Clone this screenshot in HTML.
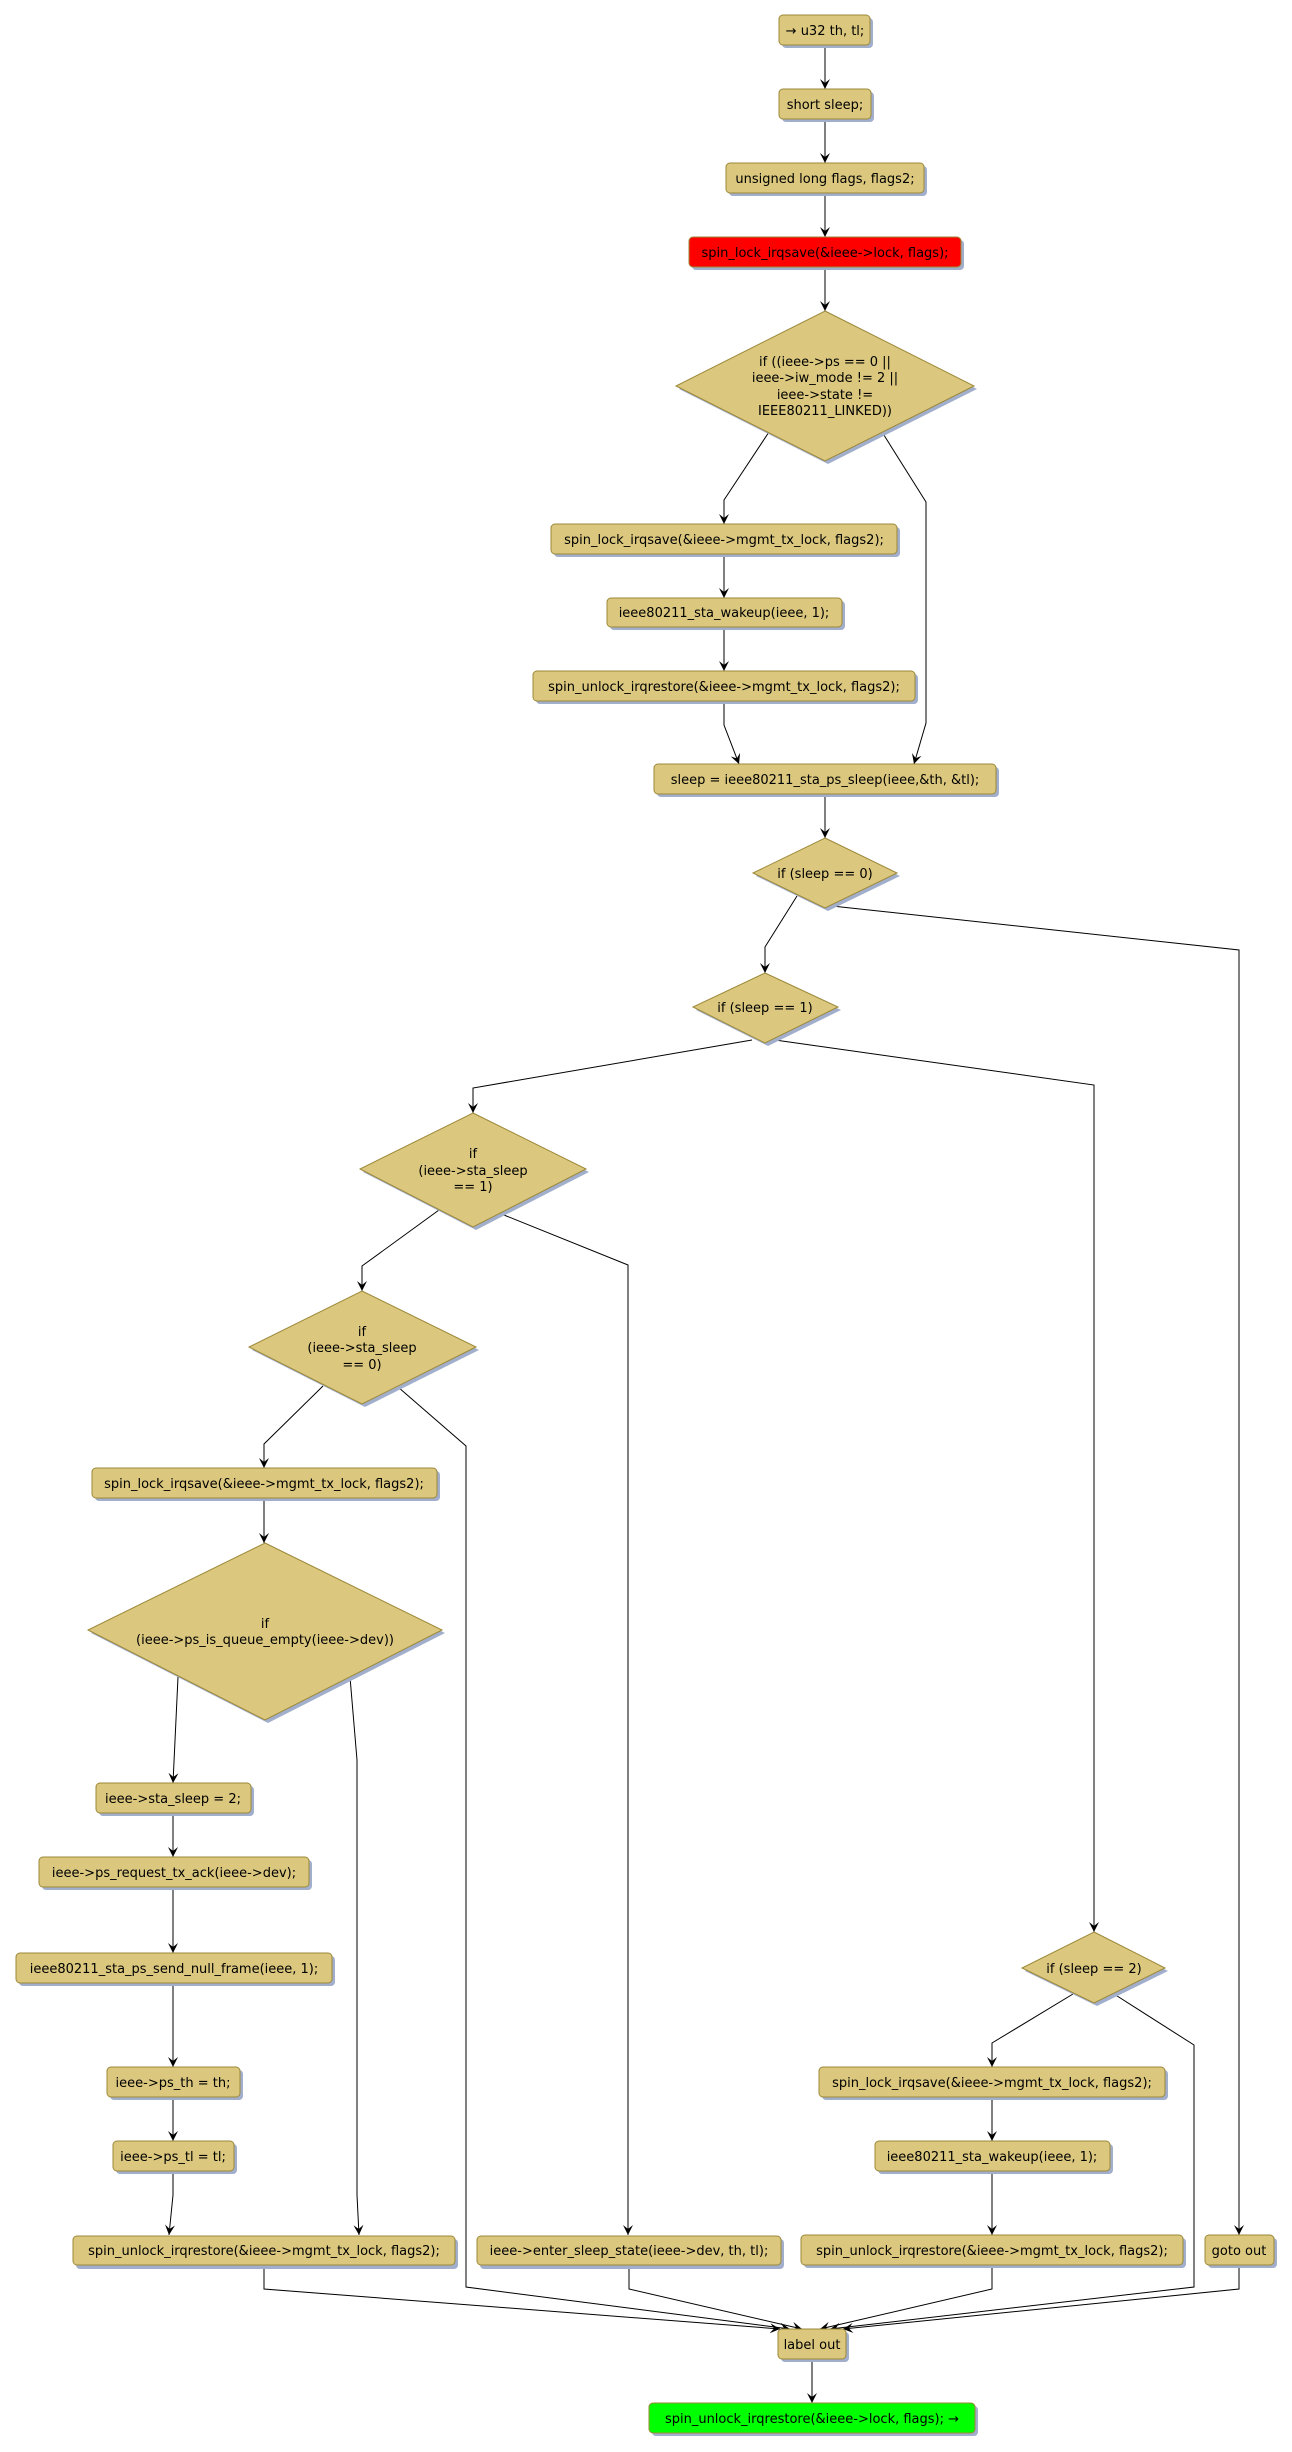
<!DOCTYPE html>
<html><head><meta charset="utf-8"><style>
html,body{margin:0;padding:0;background:#fff}
svg{display:block}
text{font-family:"DejaVu Sans","Liberation Sans",sans-serif;font-size:13px;fill:#000;text-anchor:middle}
.b{fill:#dbc87e;stroke:#9c8838;stroke-width:1}
.s{fill:#a2afcc}
.l{fill:none;stroke:#000;stroke-width:1}
</style></head><body>
<svg width="1292" height="2452" viewBox="0 0 1292 2452" xmlns="http://www.w3.org/2000/svg">
<defs>
<marker id="a" markerWidth="12" markerHeight="12" refX="10" refY="5" orient="auto" markerUnits="userSpaceOnUse">
<path d="M0,0 L10,5 L0,10 L4,5 Z" fill="#000"/>
</marker>
</defs>

<g class="l" marker-end="url(#a)">
<path d="M825,45 V89"/>
<path d="M825,119 V163"/>
<path d="M825,193 V237"/>
<path d="M825,267 V311"/>
<path d="M769,432 L724,500 V524"/>
<path d="M882,432 L926,502 V723 L914,764"/>
<path d="M724,554 V598"/>
<path d="M724,627 V671"/>
<path d="M724,701 V725 L739,764"/>
<path d="M825,794 V838"/>
<path d="M797,896 L765,947 V973"/>
<path d="M832,906 L1239,950 V2235"/>
<path d="M752,1040 L473,1088 V1113"/>
<path d="M775,1040 L1094,1085 V1932"/>
<path d="M439,1210 L362,1266 V1291"/>
<path d="M499,1213 L628,1265 V2235"/>
<path d="M323,1386 L264,1444 V1468"/>
<path d="M264,1498 V1543"/>
<path d="M178,1677 L173,1783"/>
<path d="M350,1677 L357,1760 V2195 L359,2235"/>
<path d="M173,1813 V1857"/>
<path d="M173,1887 V1953"/>
<path d="M173,1983 V2067"/>
<path d="M173,2097 V2141"/>
<path d="M173,2171 V2195 L169,2235"/>
<path d="M1073,1994 L992,2043 V2067"/>
<path d="M992,2097 V2141"/>
<path d="M992,2171 V2235"/>
<path d="M264,2265 V2289 L780,2329"/>
<path d="M398,1387 L466,1446 V2287 L790,2329"/>
<path d="M629,2265 V2289 L802,2329"/>
<path d="M992,2265 V2289 L820,2329"/>
<path d="M1114,1994 L1194,2045 V2287 L830,2329"/>
<path d="M1239,2265 V2289 L843,2329"/>
<path d="M812,2359 V2403"/>
</g>

<g>
<rect class="s" x="782" y="18" width="91" height="30" rx="4"/><rect class="b" x="779" y="15" width="91" height="30" rx="4"/><text x="825" y="35">→ u32 th, tl;</text>
<rect class="s" x="782" y="92" width="92" height="30" rx="4"/><rect class="b" x="779" y="89" width="92" height="30" rx="4"/><text x="825" y="109">short sleep;</text>
<rect class="s" x="729" y="166" width="198" height="30" rx="4"/><rect class="b" x="726" y="163" width="198" height="30" rx="4"/><text x="825" y="183">unsigned long flags, flags2;</text>
<rect class="s" x="692" y="240" width="272" height="30" rx="4"/><rect class="b" x="689" y="237" width="272" height="30" rx="4" style="fill:#ff0000"/><text x="825" y="257">spin_lock_irqsave(&amp;ieee-&gt;lock, flags);</text>

<rect class="s" x="554" y="527" width="346" height="30" rx="4"/><rect class="b" x="551" y="524" width="346" height="30" rx="4"/><text x="724" y="544">spin_lock_irqsave(&amp;ieee-&gt;mgmt_tx_lock, flags2);</text>
<rect class="s" x="610" y="601" width="235" height="29" rx="4"/><rect class="b" x="607" y="598" width="235" height="29" rx="4"/><text x="724" y="617">ieee80211_sta_wakeup(ieee, 1);</text>
<rect class="s" x="536" y="674" width="382" height="30" rx="4"/><rect class="b" x="533" y="671" width="382" height="30" rx="4"/><text x="724" y="691">spin_unlock_irqrestore(&amp;ieee-&gt;mgmt_tx_lock, flags2);</text>
<rect class="s" x="657" y="767" width="342" height="30" rx="4"/><rect class="b" x="654" y="764" width="342" height="30" rx="4"/><text x="825" y="784">sleep = ieee80211_sta_ps_sleep(ieee,&amp;th, &amp;tl);</text>

<rect class="s" x="95" y="1471" width="345" height="30" rx="4"/><rect class="b" x="92" y="1468" width="345" height="30" rx="4"/><text x="264" y="1488">spin_lock_irqsave(&amp;ieee-&gt;mgmt_tx_lock, flags2);</text>
<rect class="s" x="99" y="1786" width="155" height="30" rx="4"/><rect class="b" x="96" y="1783" width="155" height="30" rx="4"/><text x="173" y="1803">ieee-&gt;sta_sleep = 2;</text>
<rect class="s" x="42" y="1860" width="270" height="30" rx="4"/><rect class="b" x="39" y="1857" width="270" height="30" rx="4"/><text x="174" y="1877">ieee-&gt;ps_request_tx_ack(ieee-&gt;dev);</text>
<rect class="s" x="19" y="1956" width="316" height="30" rx="4"/><rect class="b" x="16" y="1953" width="316" height="30" rx="4"/><text x="174" y="1973">ieee80211_sta_ps_send_null_frame(ieee, 1);</text>
<rect class="s" x="110" y="2070" width="133" height="30" rx="4"/><rect class="b" x="107" y="2067" width="133" height="30" rx="4"/><text x="173" y="2087">ieee-&gt;ps_th = th;</text>
<rect class="s" x="116" y="2144" width="121" height="30" rx="4"/><rect class="b" x="113" y="2141" width="121" height="30" rx="4"/><text x="173" y="2161">ieee-&gt;ps_tl = tl;</text>
<rect class="s" x="76" y="2239" width="382" height="30" rx="4"/><rect class="b" x="73" y="2236" width="382" height="29" rx="4"/><text x="264" y="2255">spin_unlock_irqrestore(&amp;ieee-&gt;mgmt_tx_lock, flags2);</text>
<rect class="s" x="480" y="2239" width="304" height="30" rx="4"/><rect class="b" x="477" y="2236" width="304" height="29" rx="4"/><text x="629" y="2255">ieee-&gt;enter_sleep_state(ieee-&gt;dev, th, tl);</text>

<rect class="s" x="822" y="2070" width="346" height="30" rx="4"/><rect class="b" x="819" y="2067" width="346" height="30" rx="4"/><text x="992" y="2087">spin_lock_irqsave(&amp;ieee-&gt;mgmt_tx_lock, flags2);</text>
<rect class="s" x="878" y="2144" width="235" height="30" rx="4"/><rect class="b" x="875" y="2141" width="235" height="30" rx="4"/><text x="992" y="2161">ieee80211_sta_wakeup(ieee, 1);</text>
<rect class="s" x="804" y="2238" width="382" height="30" rx="4"/><rect class="b" x="801" y="2235" width="382" height="30" rx="4"/><text x="992" y="2255">spin_unlock_irqrestore(&amp;ieee-&gt;mgmt_tx_lock, flags2);</text>
<rect class="s" x="1208" y="2238" width="69" height="30" rx="4"/><rect class="b" x="1205" y="2235" width="69" height="30" rx="4"/><text x="1239" y="2255">goto out</text>

<rect class="s" x="781" y="2332" width="68" height="30" rx="4"/><rect class="b" x="778" y="2329" width="68" height="30" rx="4"/><text x="812" y="2349">label out</text>
<rect class="s" x="652" y="2406" width="326" height="30" rx="4"/><rect class="b" x="649" y="2403" width="326" height="30" rx="4" style="fill:#00ff00"/><text x="812" y="2423">spin_unlock_irqrestore(&amp;ieee-&gt;lock, flags); →</text>
</g>

<g>
<polygon class="s" points="828,314 977,389 828,464 679,389"/>
<polygon class="b" points="825,311 974,386 825,461 676,386"/>
<text x="825" y="366">if ((ieee-&gt;ps == 0 ||</text>
<text x="825" y="382">ieee-&gt;iw_mode != 2 ||</text>
<text x="825" y="399">ieee-&gt;state !=</text>
<text x="825" y="415">IEEE80211_LINKED))</text>

<polygon class="s" points="828,841 900,876 828,911 756,876"/>
<polygon class="b" points="825,838 897,873 825,908 753,873"/>
<text x="825" y="878">if (sleep == 0)</text>

<polygon class="s" points="768,976 841,1010 768,1046 696,1010"/>
<polygon class="b" points="765,973 838,1007 765,1043 693,1007"/>
<text x="765" y="1012">if (sleep == 1)</text>

<polygon class="s" points="476,1116 589,1172 476,1230 363,1172"/>
<polygon class="b" points="473,1113 586,1169 473,1227 360,1169"/>
<text x="473" y="1158">if</text>
<text x="473" y="1175">(ieee-&gt;sta_sleep</text>
<text x="473" y="1191">== 1)</text>

<polygon class="s" points="365,1294 479,1350 365,1407 252,1350"/>
<polygon class="b" points="362,1291 476,1347 362,1404 249,1347"/>
<text x="362" y="1336">if</text>
<text x="362" y="1352">(ieee-&gt;sta_sleep</text>
<text x="362" y="1369">== 0)</text>

<polygon class="s" points="268,1546 445,1633 268,1723 91,1633"/>
<polygon class="b" points="265,1543 442,1630 265,1720 88,1630"/>
<text x="265" y="1628">if</text>
<text x="265" y="1644">(ieee-&gt;ps_is_queue_empty(ieee-&gt;dev))</text>

<polygon class="s" points="1097,1935 1168,1971 1097,2006 1025,1971"/>
<polygon class="b" points="1094,1932 1165,1968 1094,2003 1022,1968"/>
<text x="1094" y="1973">if (sleep == 2)</text>
</g>
</svg>
</body></html>
